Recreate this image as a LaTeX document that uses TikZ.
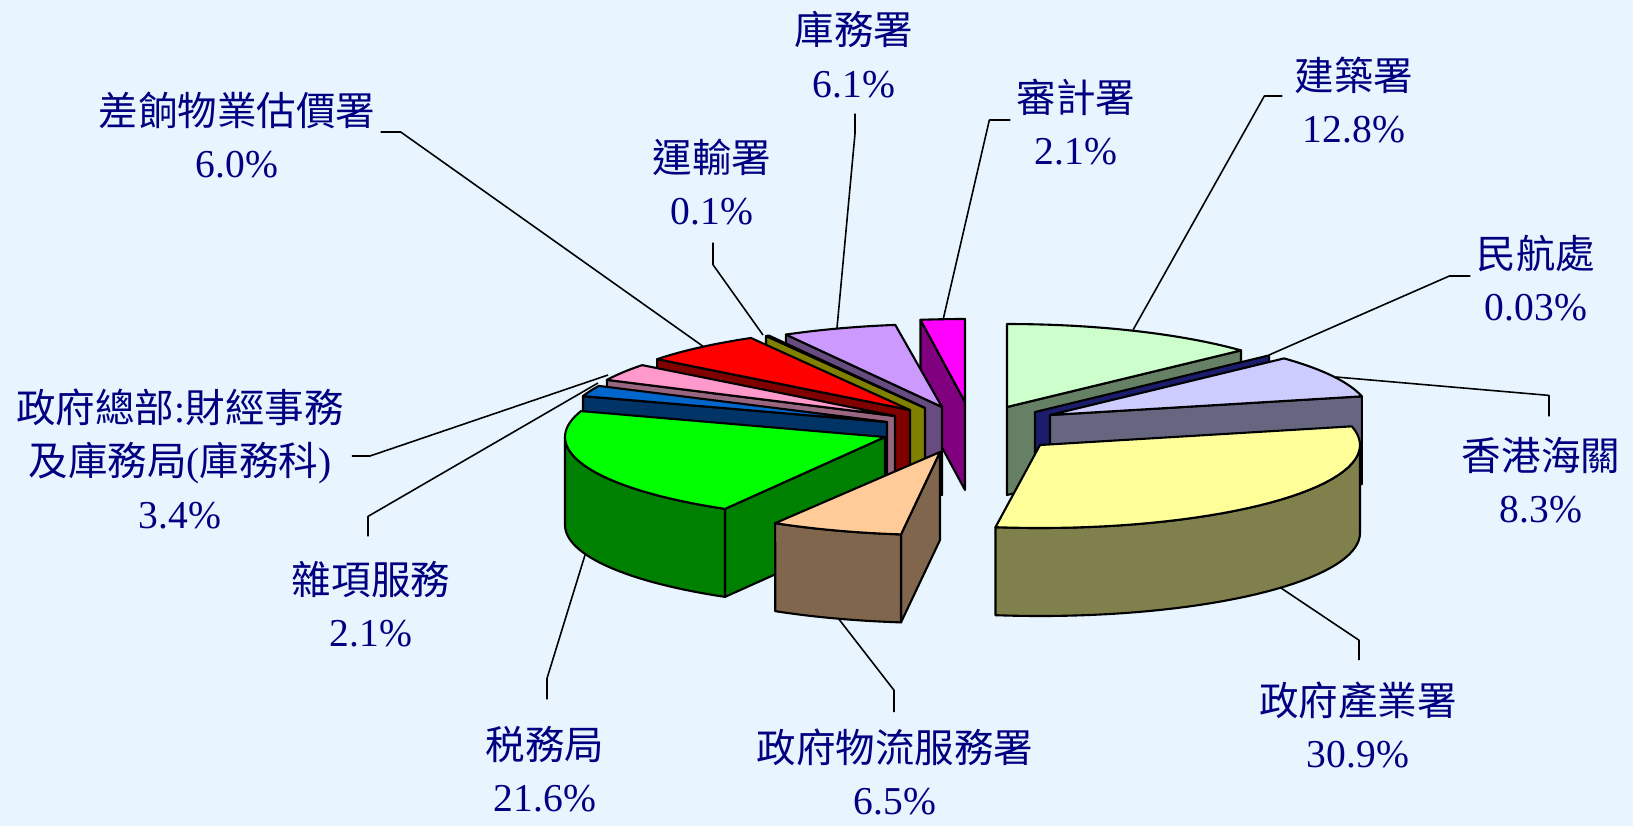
\documentclass[tikz,border=0pt]{standalone}
\usepackage{fontspec}
\setmainfont{Liberation Serif}
\newfontfamily\cjk{Noto Sans CJK TC}
\usepackage{tikz}
\usetikzlibrary{calc}

\definecolor{bgblue}{RGB}{232,245,254}
\definecolor{labelblue}{RGB}{0,0,128}
\definecolor{yellowtop}{RGB}{255,255,153}
\definecolor{yellowside}{RGB}{128,128,76}
\definecolor{peachtop}{RGB}{255,204,153}
\definecolor{peachside}{RGB}{128,102,76}
\definecolor{greentop}{RGB}{0,255,0}
\definecolor{greenside}{RGB}{0,128,0}
\definecolor{bluetop}{RGB}{0,102,204}
\definecolor{blueside}{RGB}{0,51,102}
\definecolor{pinktop}{RGB}{255,153,204}
\definecolor{pinkside}{RGB}{153,102,128}
\definecolor{redtop}{RGB}{255,0,0}
\definecolor{redside}{RGB}{128,0,0}
\definecolor{olivetop}{RGB}{153,153,0}
\definecolor{oliveside}{RGB}{128,128,0}
\definecolor{lilactop}{RGB}{204,153,255}
\definecolor{lilacside}{RGB}{102,76,128}
\definecolor{magtop}{RGB}{255,0,255}
\definecolor{magside}{RGB}{128,0,128}
\definecolor{mintgtop}{RGB}{204,255,204}
\definecolor{mintside}{RGB}{102,128,102}
\definecolor{navyside}{RGB}{28,28,108}
\definecolor{lavtop}{RGB}{204,204,255}
\definecolor{lavside}{RGB}{102,102,128}

% 扇形顶面: 中心x, 中心y, 起始角, 终止角, 颜色
\newcommand{\slicetop}[5]{\filldraw[pie,fill=#5] (#1,#2) -- plot[domain=#3:#4,samples=40] ({#1+320*cos(\x)},{#2-83*sin(\x)}) -- cycle;}
% 径向侧面: 中心x, 中心y, 角度, 颜色
\newcommand{\slicewall}[4]{\filldraw[pie,fill=#4] (#1,#2) -- ({#1+320*cos(#3)},{#2-83*sin(#3)}) -- ++(0,88) -- (#1,#2+88) -- cycle;}
% 外侧弧面: 中心x, 中心y, 起始角, 终止角, 颜色
\newcommand{\slicerim}[5]{\filldraw[pie,fill=#5] plot[domain=#3:#4,samples=40] ({#1+320*cos(\x)},{#2-83*sin(\x)}) -- plot[domain=#4:#3,samples=40] ({#1+320*cos(\x)},{#2+88-83*sin(\x)}) -- cycle;}

\begin{document}
\begin{tikzpicture}[x=0.02cm, y=-0.02cm, line join=round,
  pie/.style={draw=black, line width=1.2pt},
  lbl/.style={text=labelblue, align=center, inner sep=0pt, font=\fontsize{22.5}{30}\selectfont},
  leader/.style={line width=0.9pt}]
  \fill[bgblue] (0,0) rectangle (1633,826);
  \useasboundingbox (0,0) rectangle (1633,826);

  % 后排扇形
  \slicewall{965}{402}{98}{magside}
  \slicetop{965}{402}{90}{98}{magtop}
  \slicewall{1007}{407}{43}{mintside}
  \slicetop{1007}{407}{43}{90}{mintgtop}
  \slicewall{1035}{412}{43}{navyside}
  \slicewall{1050}{415}{13}{lavside}
  \slicetop{1050}{415}{13}{43}{lavtop}
  \slicewall{942}{407}{119.2}{lilacside}
  \slicetop{942}{407}{98.4}{119.2}{lilactop}
  \slicewall{925}{408}{119.8}{oliveside}
  \slicetop{925}{408}{119.2}{119.8}{olivetop}
  \slicewall{910}{410}{142.2}{redside}
  \slicetop{910}{410}{119.8}{142.2}{redtop}
  \slicewall{895}{416}{154.2}{pinkside}
  \slicetop{895}{416}{142.2}{154.2}{pinktop}
  \slicewall{887}{422}{161.8}{blueside}
  \slicetop{887}{422}{154.2}{161.8}{bluetop}
  % 前排扇形
  \slicewall{885}{437}{240}{greenside}
  \slicerim{885}{437}{180}{240}{greenside}
  \slicetop{885}{437}{161.8}{240}{greentop}
  \slicewall{940}{452}{263}{peachside}
  \slicerim{940}{452}{239}{263}{peachside}
  \slicetop{940}{452}{239}{263}{peachtop}
  \slicerim{1040}{445}{262}{360}{yellowside}
  \slicetop{1040}{445}{262}{373}{yellowtop}

  % 标签
  \node[lbl] (cha) at (237,135) {{\cjk 差餉物業估價署}\\6.0\%};
  \node[lbl] (yun) at (712,182) {{\cjk 運輸署}\\0.1\%};
  \node[lbl] (ku) at (854,55) {{\cjk 庫務署}\\6.1\%};
  \node[lbl] (shen) at (1076,122) {{\cjk 審計署}\\2.1\%};
  \node[lbl] (jian) at (1354,100) {{\cjk 建築署}\\12.8\%};
  \node[lbl] (min) at (1536,278) {{\cjk 民航處}\\0.03\%};
  \node[lbl] (hai) at (1541,480) {{\cjk 香港海關}\\8.3\%};
  \node[lbl] (chan) at (1358,725) {{\cjk 政府產業署}\\30.9\%};
  \node[lbl] (wu) at (895,772) {{\cjk 政府物流服務署}\\6.5\%};
  \node[lbl] (shui) at (545,769) {{\cjk 税務局}\\21.6\%};
  \node[lbl] (za) at (371,604) {{\cjk 雜項服務}\\2.1\%};
  \node[lbl] (zong) at (180,459) {{\cjk 政府總部}:{\cjk 財經事務}\\{\cjk 及庫務局}({\cjk 庫務科})\\3.4\%};

  % 引线端点
  \coordinate (cha-end) at (704,347);
  \coordinate (yun-end) at (763,335);
  \coordinate (ku-end) at (837,328);
  \coordinate (shen-end) at (943,320);
  \coordinate (jian-end) at (1133,330);
  \coordinate (min-end) at (1269,355);
  \coordinate (hai-end) at (1336,377);
  \coordinate (chan-end) at (1281,588);
  \coordinate (wu-end) at (838,618);
  \coordinate (shui-end) at (585,555);
  \coordinate (za-end) at (598,383);
  \coordinate (zong-end) at (608,375);

  % 引线
  \draw[leader] (cha.east) ++(5,-3) -- ++(20,0) -- (cha-end);
  \draw[leader] (yun.south) ++(1,17) -- ++(0,22) -- (yun-end);
  \draw[leader] (ku.south) ++(1,15) -- ++(0,20) -- (ku-end);
  \draw[leader] (shen.west) ++(-6,-2) -- ++(-21,0) -- (shen-end);
  \draw[leader] (jian.west) ++(-12,-4) -- ++(-18,0) -- (jian-end);
  \draw[leader] (min.west) ++(-6,-2) -- ++(-21,0) -- (min-end);
  \draw[leader] (hai.north) ++(8,-20) -- ++(0,-21) -- (hai-end);
  \draw[leader] (chan.north) ++(1,-21) -- ++(0,-20) -- (chan-end);
  \draw[leader] (wu.north) ++(-1,-16) -- ++(0,-22) -- (wu-end);
  \draw[leader] (shui.north) ++(2,-26) -- ++(0,-21) -- (shui-end);
  \draw[leader] (za.north) ++(-3,-24) -- ++(0,-20) -- (za-end);
  \draw[leader] (zong.east) ++(8,-3) -- ++(18,0) -- (zong-end);
\end{tikzpicture}
\end{document}
